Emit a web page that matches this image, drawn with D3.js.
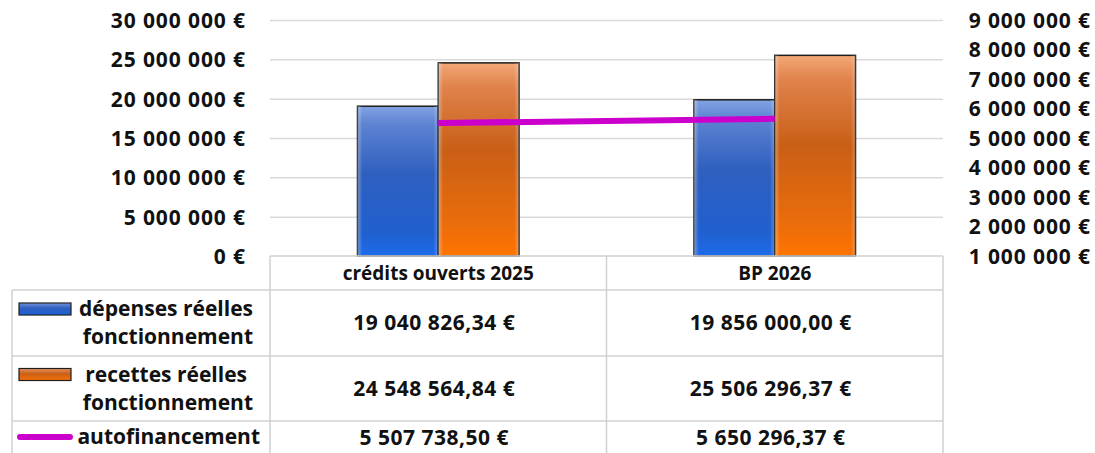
<!DOCTYPE html>
<html>
<head>
<meta charset="utf-8">
<script src="https://cdn.jsdelivr.net/npm/d3@7"></script>
<style>
  body { margin: 0; background: #fff; }
  svg text { font-family: "Open Sans", sans-serif; font-weight: bold; fill: #111; }
</style>
</head>
<body>
<div id="container"></div>
<script>
// data
var categories = ["crédits ouverts 2025", "BP 2026"];
var depenses = [19040826.34, 19856000.00];
var recettes = [24548564.84, 25506296.37];
var autofinancement = [5507738.50, 5650296.37];
var leftTicks = [0, 5000000, 10000000, 15000000, 20000000, 25000000, 30000000];
var rightTicks = [1000000, 2000000, 3000000, 4000000, 5000000, 6000000, 7000000, 8000000, 9000000];
var seriesNames = ["dépenses", "recettes"];
var legendLabels = [
    ["dépenses réelles", "fonctionnement"],
    ["recettes réelles", "fonctionnement"],
    ["autofinancement"]
];

var W = 1095, H = 453;
var plotLeft = 270, plotRight = 943, plotTop = 20, plotBottom = 256;
var tableLeft = 12;
var rowEdges = [256, 290, 356, 421, 462];
var fontSize = 21;

var fr = d3.formatLocale({decimal: ",", thousands: "\u00a0", grouping: [3], currency: ["", ""]});
var fmtAxis = function(v){ return fr.format(",.0f")(v) + "\u00a0€"; };
var fmtVal = function(v){ return fr.format(",.2f")(v) + "\u00a0€"; };

var svg = d3.select("#container").append("svg")
    .attr("width", W).attr("height", H);

var defs = svg.append("defs");
var addGrad = function(id, stops){
    var g = defs.append("linearGradient").attr("id", id)
	.attr("x1", 0).attr("y1", 0).attr("x2", 0).attr("y2", 1);
    stops.forEach(function(s){
	g.append("stop").attr("offset", s[0]).attr("stop-color", s[1]);
    });
};
addGrad("g-blue", [[0, "#82a3e4"], [0.12, "#5d83d2"], [0.45, "#2f5fbf"], [0.85, "#2060cf"], [1, "#1d6bea"]]);
addGrad("g-orange", [[0, "#f3a877"], [0.12, "#e0834c"], [0.45, "#c95f16"], [0.85, "#ec6d0b"], [1, "#ff7400"]]);
// light vertical edges
var edge = defs.append("linearGradient").attr("id", "g-edge")
    .attr("x1", 0).attr("y1", 0).attr("x2", 1).attr("y2", 0);
edge.append("stop").attr("offset", 0).attr("stop-color", "#fff").attr("stop-opacity", 0.35);
edge.append("stop").attr("offset", 0.06).attr("stop-color", "#fff").attr("stop-opacity", 0);
edge.append("stop").attr("offset", 0.94).attr("stop-color", "#fff").attr("stop-opacity", 0);
edge.append("stop").attr("offset", 1).attr("stop-color", "#fff").attr("stop-opacity", 0.25);

var fills = {"dépenses": "url(#g-blue)", "recettes": "url(#g-orange)"};

// scales
var x = d3.scaleBand().domain(categories).range([plotLeft, plotRight]);
var y = d3.scaleLinear().domain([0, 30000000]).range([plotBottom, plotTop]);
var y2 = d3.scaleLinear().domain([1000000, 9000000]).range([plotBottom, plotTop]);
var groupW = x.bandwidth() * 0.48;
var x1 = d3.scaleBand().domain(seriesNames).range([0, groupW]);

// gridlines
svg.append("g")
    .attr("class", "grid")
    .attr("transform", "translate(" + plotLeft + ",0)")
    .call(d3.axisLeft(y).tickValues(leftTicks.slice(1)).tickSize(-(plotRight - plotLeft)).tickFormat(""))
    .call(function(g){
	g.select(".domain").remove();
	g.selectAll("line").attr("stroke", "#d9d9d9").attr("stroke-width", 1.5);
    });

var styleAxis = function(g){
    g.select(".domain").remove();
    g.selectAll("text")
	.attr("font-size", fontSize)
	.attr("font-family", null)
	.attr("fill", null)
	.attr("letter-spacing", 0.9)
	.attr("dy", "0.35em");
};

// left axis labels
svg.append("g")
    .attr("transform", "translate(246,0)")
    .call(d3.axisLeft(y).tickValues(leftTicks).tickSize(0).tickPadding(0).tickFormat(fmtAxis))
    .call(styleAxis);

// right axis labels
svg.append("g")
    .attr("transform", "translate(1091,0)")
    .call(d3.axisLeft(y2).tickValues(rightTicks).tickSize(0).tickPadding(0).tickFormat(fmtAxis))
    .call(styleAxis);

// bars
var barData = [];
categories.forEach(function(c, i){
    barData.push({cat: c, s: "dépenses", v: depenses[i]});
    barData.push({cat: c, s: "recettes", v: recettes[i]});
});
var barX = function(d){ return x(d.cat) + x.bandwidth()/2 - groupW/2 + x1(d.s); };
var bars = svg.append("g").selectAll("g").data(barData).enter().append("g");
bars.append("rect")
    .attr("x", barX)
    .attr("y", function(d){ return y(d.v); })
    .attr("width", x1.bandwidth())
    .attr("height", function(d){ return y(0) - y(d.v); })
    .attr("fill", function(d){ return fills[d.s]; })
    .attr("stroke", "#1e1e1e")
    .attr("stroke-width", 1.5);
bars.append("rect")
    .attr("x", barX)
    .attr("y", function(d){ return y(d.v); })
    .attr("width", x1.bandwidth())
    .attr("height", function(d){ return y(0) - y(d.v); })
    .attr("fill", "url(#g-edge)");

// autofinancement line
var line = d3.line()
    .x(function(d, i){ return x(categories[i]) + x.bandwidth()/2; })
    .y(function(d){ return y2(d); });
svg.append("path")
    .datum(autofinancement)
    .attr("d", line)
    .attr("fill", "none")
    .attr("stroke", "#cc00cc")
    .attr("stroke-width", 6);

// data table
var tbl = svg.append("g").attr("class", "table");
var lineCol = "#d0d0d0";
var hl = function(x0, x1_, yy){
    tbl.append("line").attr("x1", x0).attr("x2", x1_).attr("y1", yy).attr("y2", yy)
	.attr("stroke", lineCol).attr("stroke-width", 1.5);
};
var vl = function(xx, y0, y1_){
    tbl.append("line").attr("x1", xx).attr("x2", xx).attr("y1", y0).attr("y2", y1_)
	.attr("stroke", lineCol).attr("stroke-width", 1.5);
};
hl(plotLeft, plotRight, rowEdges[0]);
for (var r = 1; r < rowEdges.length; r++){
    hl(tableLeft, plotRight, rowEdges[r]);
}
vl(tableLeft, rowEdges[1], rowEdges[4]);
vl(plotLeft, rowEdges[0], rowEdges[4]);
vl(x("BP 2026"), rowEdges[0], rowEdges[4]);
vl(plotRight, rowEdges[0], rowEdges[4]);

// header
tbl.selectAll("text.hdr").data(categories).enter().append("text")
    .attr("class", "hdr")
    .attr("x", function(d){ return x(d) + x.bandwidth()/2; })
    .attr("y", (rowEdges[0] + rowEdges[1]) / 2)
    .attr("dy", "0.35em")
    .attr("text-anchor", "middle")
    .attr("font-size", 19)
    .text(function(d){ return d; });

var rows = [depenses, recettes, autofinancement];
rows.forEach(function(vals, r){
    var cy = (rowEdges[r + 1] + rowEdges[r + 2]) / 2;
    if (r == 2) cy = 438;
    vals.forEach(function(v, i){
	tbl.append("text")
	    .attr("x", x(categories[i]) + x.bandwidth()/2 - 4)
	    .attr("y", cy)
	    .attr("dy", "0.35em")
	    .attr("text-anchor", "middle")
	    .attr("font-size", fontSize)
	    .attr("letter-spacing", 0.5)
	    .text(fmtVal(v));
    });
    // legend cell
    var lines = legendLabels[r];
    var firstBase = lines.length > 1 ? cy - 7 : cy + 6;
    lines.forEach(function(t, k){
	var tx = 253;
	if (r == 1 && k == 0) tx = 247;
	if (r == 2) tx = 260;
	tbl.append("text")
	    .attr("x", tx)
	    .attr("y", firstBase + k * 28)
	    .attr("text-anchor", "end")
	    .attr("font-size", fontSize)
	    .text(t);
    });
    if (r < 2){
	tbl.append("rect")
	    .attr("x", 19).attr("y", firstBase - 13)
	    .attr("width", 52).attr("height", 12)
	    .attr("fill", fills[seriesNames[r]])
	    .attr("stroke", "#1e1e1e").attr("stroke-width", 1.2);
    } else {
	tbl.append("line")
	    .attr("x1", 20).attr("x2", 70)
	    .attr("y1", cy - 1).attr("y2", cy - 1)
	    .attr("stroke", "#cc00cc").attr("stroke-width", 6)
	    .attr("stroke-linecap", "round");
    }
});
</script>
</body>
</html>
